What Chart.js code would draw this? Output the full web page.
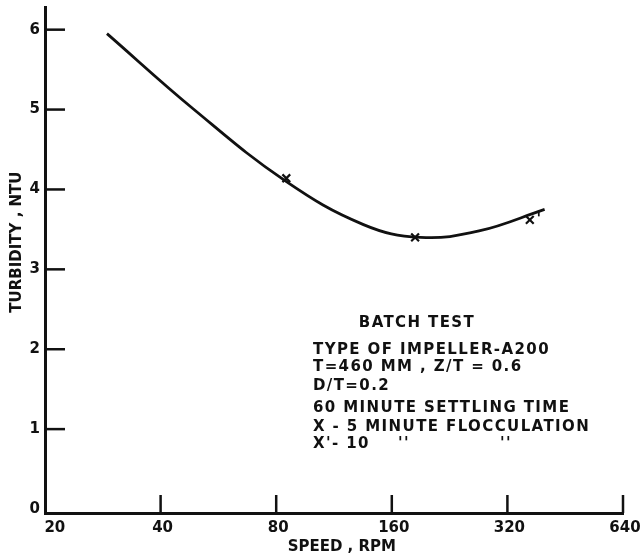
<!DOCTYPE html>
<html>
<head>
<meta charset="utf-8">
<script src="https://cdn.jsdelivr.net/npm/chart.js@4/dist/chart.umd.min.js"></script>
<style>
html,body{margin:0;padding:0;background:#fff;}
#wrap{width:640px;height:558px;}
</style>
</head>
<body>
<div id="wrap"><canvas id="c" width="640" height="558"></canvas></div>
<script>
const speedTicks = [20, 40, 80, 160, 320, 640];
const turbTicks = [0, 1, 2, 3, 4, 5, 6];
const curveSpeed = [29, 48.6, 84.3, 135, 190, 270, 400];
const curveTurb = [5.95, 5.01, 4.11, 3.56, 3.4, 3.48, 3.75];
const pointSpeed = [85, 184, 366];
const pointTurb = [4.14, 3.4, 3.62];
const pointLabels = ['X', 'X', "X'"];
const noteLines = [
  'BATCH TEST',
  'TYPE OF IMPELLER-A200',
  'T=460 MM , Z/T = 0.6',
  'D/T=0.2',
  '60 MINUTE SETTLING TIME',
  'X - 5 MINUTE FLOCCULATION',
  "X'- 10"
];

const FONT = "'DejaVu Sans', sans-serif";

const innerTicks = {
  id: 'innerTicks',
  afterDraw(chart) {
    const ctx = chart.ctx;
    const xs = chart.scales.x, ys = chart.scales.y;
    const a = chart.chartArea;
    ctx.save();
    ctx.strokeStyle = '#111';
    ctx.lineWidth = 2.5;
    ctx.lineCap = 'butt';
    turbTicks.forEach(v => {
      if (v === 0) return;
      const py = ys.getPixelForValue(v);
      ctx.beginPath(); ctx.moveTo(a.left, py); ctx.lineTo(a.left + 20, py); ctx.stroke();
    });
    speedTicks.forEach(v => {
      if (v === 20) return;
      const px = xs.getPixelForValue(v);
      ctx.beginPath(); ctx.moveTo(px, a.bottom); ctx.lineTo(px, a.bottom - 18); ctx.stroke();
    });
    // primes on marker labels
    ctx.fillStyle = '#111';
    ctx.font = 'bold 15px ' + FONT;
    ctx.textBaseline = 'middle';
    ctx.textAlign = 'center';
    pointLabels.forEach((l, i) => {
      if (l.indexOf("'") >= 0) {
        const px = xs.getPixelForValue(pointSpeed[i]);
        const py = ys.getPixelForValue(pointTurb[i]);
        ctx.fillText("'", px + 9, py);
      }
    });
    // annotation block
    ctx.font = 'bold 15px ' + FONT;
    try { ctx.letterSpacing = '1.4px'; } catch (e) {}
    ctx.textBaseline = 'middle';
    ctx.textAlign = 'center';
    ctx.fillText(noteLines[0], 417, 323);
    ctx.textAlign = 'left';
    const ys2 = [350, 367, 386, 408, 427, 444];
    for (let i = 1; i < noteLines.length; i++) {
      ctx.fillText(noteLines[i], 313, ys2[i - 1]);
    }
    ctx.fillText("''", 398, 444);
    ctx.fillText("''", 500, 444);
    ctx.restore();
  }
};

new Chart(document.getElementById('c'), {
  type: 'line',
  data: {
    datasets: [
      {
        label: 'curve',
        data: curveSpeed.map((s, i) => ({x: s, y: curveTurb[i]})),
        borderColor: '#111',
        borderWidth: 2.8,
        pointRadius: 0,
        fill: false,
        tension: 0.4
      },
      {
        label: 'points',
        type: 'scatter',
        data: pointSpeed.map((s, i) => ({x: s, y: pointTurb[i]})),
        borderColor: '#111',
        backgroundColor: '#111',
        borderWidth: 2.2,
        pointStyle: 'crossRot',
        pointRadius: 5.5,
        showLine: false
      }
    ]
  },
  options: {
    responsive: false,
    animation: false,
    layout: {padding: {left: 0, right: 17, top: 7, bottom: 0}},
    plugins: {legend: {display: false}, tooltip: {enabled: false}},
    scales: {
      x: {
        type: 'logarithmic',
        min: 20,
        max: 640,
        afterBuildTicks: s => { s.ticks = speedTicks.map(v => ({value: v})); },
        afterFit: s => { s.height = 45; s.paddingLeft = 0; s.paddingRight = 0; },
        grid: {display: false, drawTicks: false},
        border: {display: true, color: '#111', width: 3},
        ticks: {
          color: '#111',
          font: {family: FONT, size: 15, weight: 'bold'},
          padding: 6,
          labelOffset: 2,
          maxRotation: 0,
          autoSkip: false,
          callback: v => (v === speedTicks[0] ? '   ' : '') + String(v)
        },
        title: {
          display: true,
          text: '   SPEED , RPM',
          color: '#111',
          font: {family: FONT, size: 15, weight: 'bold'},
          padding: {top: 0, bottom: 2}
        }
      },
      y: {
        type: 'linear',
        min: -0.05,
        max: 6.275,
        afterBuildTicks: s => { s.ticks = turbTicks.map(v => ({value: v})); },
        afterFit: s => { s.width = 45; s.paddingTop = 0; s.paddingBottom = 0; },
        grid: {display: false, drawTicks: false},
        border: {display: true, color: '#111', width: 3},
        ticks: {
          color: '#111',
          font: {family: FONT, size: 15, weight: 'bold'},
          padding: 5,
          autoSkip: false,
          callback: v => String(v)
        },
        title: {
          display: true,
          text: '       TURBIDITY , NTU',
          color: '#111',
          font: {family: FONT, size: 15, weight: 'bold'},
          padding: {top: 8, bottom: 0}
        }
      }
    }
  },
  plugins: [innerTicks]
});
</script>
</body>
</html>
